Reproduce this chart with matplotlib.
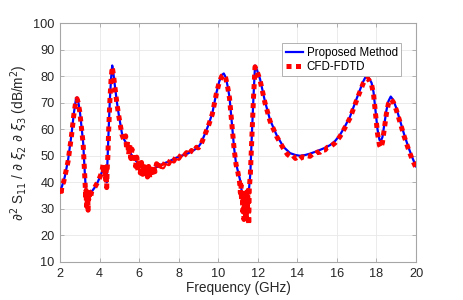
import numpy as np
import matplotlib
matplotlib.use('Agg')
import matplotlib.pyplot as plt

plt.rcParams['font.family'] = ['Liberation Sans', 'DejaVu Sans']
plt.rcParams['mathtext.fontset'] = 'dejavusans'

# frequency (GHz) / derivative (dB/m^2)
f_proposed = [2.00, 2.10, 2.24, 2.41, 2.58, 2.70, 2.80, 2.86, 2.92, 3.00, 3.10, 3.17, 3.25, 3.30,
              3.34, 3.38, 3.43, 3.50, 3.60, 3.75, 3.90, 4.02, 4.15, 4.25, 4.32, 4.36, 4.40, 4.46,
              4.52, 4.58, 4.64, 4.70, 4.78, 4.88, 4.96, 5.05, 5.13, 5.25, 5.37, 5.47, 5.60, 5.80,
              6.00, 6.14, 6.30, 6.48, 6.60, 6.80, 6.98, 7.20, 7.49, 7.75, 8.00, 8.25, 8.50, 8.75,
              9.00, 9.15, 9.30, 9.50, 9.70, 9.90, 10.05, 10.18, 10.28, 10.38, 10.48, 10.57, 10.68,
              10.80, 10.90, 11.00, 11.10, 11.18, 11.25, 11.32, 11.40, 11.48, 11.55, 11.62, 11.70,
              11.78, 11.86, 11.95, 12.11, 12.36, 12.62, 12.95, 13.29, 13.63, 13.90, 14.13, 14.40,
              14.64, 14.90, 15.14, 15.40, 15.65, 15.90, 16.15, 16.40, 16.66, 17.00, 17.20, 17.33,
              17.45, 17.52, 17.62, 17.75, 17.85, 17.95, 18.05, 18.15, 18.22, 18.30, 18.40, 18.50,
              18.60, 18.72, 18.85, 19.00, 19.20, 19.40, 19.60, 19.80, 20.00]
s_proposed = [36.5, 38.5, 42, 48.5, 58, 66, 71, 72, 70.5, 67, 60, 55, 44, 38,
              35, 33.5, 34, 35.5, 36.5, 38, 40, 42, 44.5, 46, 44, 40, 48, 60,
              71, 79, 84, 81, 76, 70, 66, 62, 58.5, 56, 54.5, 52.5, 50.5, 48.5,
              46.5, 45.5, 45, 44.5, 45, 45.5, 46, 47, 47.8, 48.8, 49.7, 50.3, 51, 52,
              53.4, 55, 57.8, 61.5, 66, 73.5, 78, 80.4, 81, 79.5, 76, 72, 63,
              53, 47, 44, 41, 37, 34, 32, 33, 34.5, 37, 43, 58,
              72, 84, 82.5, 79, 70.5, 63.5, 57.8, 53.4, 51, 50.3, 50, 50.3,
              50.8, 51.5, 52.2, 53, 54, 55.5, 57.8, 61, 64.7, 71.6, 75.5, 78,
              79.7, 80, 79.2, 77.5, 74, 67, 60, 56, 55.5, 57, 62, 67,
              70.5, 72.3, 71, 68, 63, 58, 53.5, 49.5, 46]

f_fdtd = [2.00, 2.05, 2.10, 2.18, 2.24, 2.41, 2.58, 2.70, 2.80, 2.86, 2.92, 3.00, 3.10, 3.17,
          3.25, 3.28, 3.30, 3.32, 3.34, 3.36, 3.38, 3.40, 3.42, 3.44, 3.47, 3.50, 3.55, 3.60,
          3.75, 3.90, 4.02, 4.12, 4.18, 4.22, 4.26, 4.30, 4.33, 4.36, 4.38, 4.42, 4.46, 4.52,
          4.58, 4.64, 4.70, 4.78, 4.88, 4.96, 5.05, 5.13, 5.25, 5.32, 5.37, 5.42, 5.47, 5.52,
          5.58, 5.64, 5.70, 5.76, 5.82, 5.88, 5.94, 6.00, 6.06, 6.12, 6.18, 6.24, 6.30, 6.36,
          6.42, 6.48, 6.54, 6.60, 6.66, 6.72, 6.80, 6.88, 6.98, 7.10, 7.20, 7.35, 7.49, 7.62,
          7.75, 7.88, 8.00, 8.15, 8.25, 8.40, 8.50, 8.65, 8.75, 8.90, 9.00, 9.15, 9.30, 9.50,
          9.70, 9.90, 10.05, 10.18, 10.28, 10.38, 10.48, 10.57, 10.68, 10.80, 10.90, 11.00,
          11.08, 11.12, 11.15, 11.18, 11.21, 11.24, 11.27, 11.30, 11.33, 11.36, 11.39, 11.42,
          11.45, 11.48, 11.51, 11.54, 11.57, 11.62, 11.70, 11.78, 11.86, 11.95, 12.11, 12.36,
          12.62, 12.95, 13.29, 13.50, 13.63, 13.75, 13.90, 14.02, 14.13, 14.25, 14.40, 14.52,
          14.64, 14.78, 14.90, 15.02, 15.14, 15.27, 15.40, 15.52, 15.65, 15.90, 16.15, 16.40,
          16.66, 17.00, 17.20, 17.33, 17.45, 17.52, 17.62, 17.75, 17.85, 17.95, 18.05, 18.15,
          18.22, 18.30, 18.40, 18.50, 18.60, 18.72, 18.85, 19.00, 19.20, 19.40, 19.60, 19.80,
          20.00]
s_fdtd = [37.5, 35, 39, 40, 42, 48, 57.5, 65.5, 70.5, 71.5, 70, 66.5, 59.5, 54.5,
          43, 38, 34, 37, 31, 36, 32, 35, 29.5, 34, 33, 36, 34.5, 36.5,
          38, 40, 42, 44, 47, 43, 46, 41, 45, 38, 44, 50, 59.5, 70.5,
          78.5, 83.5, 80.5, 75.5, 69.5, 65.5, 61.5, 58, 55.5, 57.5, 52.5, 55.5, 50.5, 54,
          49, 52.5, 47.5, 51, 46, 49.5, 44.5, 48.5, 43.5, 47.5, 43, 47, 42.5, 46.5,
          42, 46, 41.5, 45.5, 42.5, 46.5, 44, 47, 45, 47.2, 45.8, 48, 47, 49,
          48, 49.9, 49, 50.7, 49.8, 51.2, 50.4, 52, 51.3, 53.2, 53, 54.7, 57.5, 61.2,
          65.7, 73.2, 77.7, 80, 80.6, 79.2, 75.7, 71.7, 62.7, 52.7, 46.7, 43.5,
          40, 36, 39, 33, 37, 29, 35, 26, 34, 28, 36, 27,
          35, 31, 37, 24, 38, 42.5, 57.5, 71.5, 83.5, 82, 78.6, 70,
          63, 57.3, 52.8, 50.5, 49.8, 50.3, 49, 49.6, 48.8, 49.6, 49.3, 50,
          49.8, 50.7, 50.5, 51.4, 51.3, 52.2, 52.2, 53.2, 53.3, 54.8, 57.2, 60.5,
          64.2, 71, 74.8, 77.3, 78.9, 79.2, 78.5, 76.8, 73.3, 66, 58.5, 54,
          53, 55, 60.5, 65.8, 69.5, 71.3, 70.2, 67.3, 62.4, 57.3, 52.8, 48.7,
          45.5]

x_ticks = np.arange(2, 21, 2)
y_ticks = np.arange(10, 101, 10)

fig = plt.figure(figsize=(4.63, 3.0), dpi=100)
ax = fig.add_axes([0.1296, 0.1267, 0.769, 0.7966])

ax.plot(f_proposed, s_proposed, color='#0000ff', lw=1.6, label='Proposed Method', zorder=3)
ax.plot(f_fdtd, s_fdtd, color='#ff0000', lw=3.6, dashes=(1, 0.9), dash_capstyle='butt',
        label='CFD-FDTD', zorder=4)

ax.set_xlim(2, 20)
ax.set_ylim(10, 100)
ax.set_xticks(x_ticks)
ax.set_yticks(y_ticks)
ax.grid(True, color='#e8e8e8', lw=0.6)
ax.set_axisbelow(True)

for sp in ax.spines.values():
    sp.set_color('#a6a6a6')
    sp.set_linewidth(0.8)
ax.tick_params(direction='in', length=3, width=0.6, color='#a6a6a6', top=True, right=True,
               labelsize=9.2, labelcolor='#262626', pad=4)

ax.set_xlabel('Frequency (GHz)', fontsize=9.8, color='#262626', labelpad=1)
ax.set_ylabel(r'$\partial^2$ S$_{11}$ / $\partial$ $\xi_2$ $\partial$ $\xi_3$ (dB/m$^2$)',
              fontsize=9.8, color='#262626', labelpad=2)

leg = ax.legend(loc='upper right', bbox_to_anchor=(0.958, 0.916), fontsize=8.3,
                fancybox=False, framealpha=1, edgecolor='#a6a6a6', borderpad=0.3,
                handlelength=1.5, handletextpad=0.3, labelspacing=0.2, borderaxespad=0)
leg.get_frame().set_linewidth(0.6)

fig.savefig('out.png', dpi=100)
